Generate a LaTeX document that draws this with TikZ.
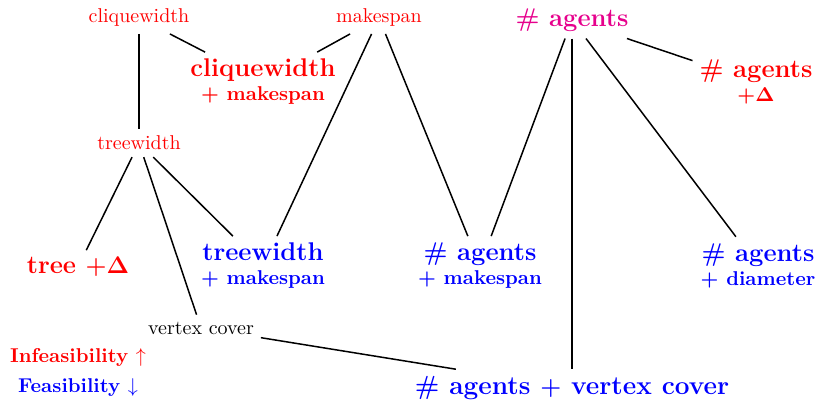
\documentclass[tikz,border=0pt]{standalone}
\usepackage{bm}
\definecolor{agentpink}{RGB}{230,0,140}
\newcommand{\biglabel}{\fontsize{12.8}{15}\selectfont}
\tikzset{
  param/.style={text=red},
  redbox/.style={text=red, font=\bfseries, align=center},
  bluebox/.style={text=blue, font=\bfseries, align=center},
  link/.style={line width=0.75pt},
}
\begin{document}
\begin{tikzpicture}[x=0.5pt,y=-0.5pt]
\useasboundingbox (0,0) rectangle (817,400);

% single parameters
\node[param] (cw) at (139,18) {cliquewidth};
\node[param] (mk) at (379,18) {makespan};
\node[text=agentpink, font=\biglabel\bfseries] (ag) at (572,20) {\# agents};
\node[param] (tw) at (139,143) {treewidth};
\node (vc) at (201,328) {vertex cover};

% combined parameters
\node[redbox] (cwm) at (263,82) {{\biglabel cliquewidth}\\ $\bm{+}$ makespan};
\node[redbox] (agD) at (756,82) {{\biglabel \# agents}\\ $\bm{+\Delta}$};
\node[redbox, font=\biglabel\bfseries] (tree) at (78,267) {tree $\bm{+\Delta}$};
\node[bluebox] (twm) at (263,266) {{\biglabel treewidth}\\ $\bm{+}$ makespan};
\node[bluebox] (agm) at (480,266) {{\biglabel \# agents}\\ $\bm{+}$ makespan};
\node[bluebox] (agd) at (758,266) {{\biglabel \# agents}\\ $\bm{+}$ diameter};
\node[bluebox, font=\fontsize{13.1}{15}\selectfont\bfseries] (agvc) at (572,388) {\# agents $\bm{+}$ vertex cover};

% legend
\node[text=red, font=\bfseries] (inf) at (78,357) {Infeasibility $\uparrow$};
\node[text=blue, font=\bfseries] (fea) at (78,388) {Feasibility $\downarrow$};

% hierarchy
\draw[link] (cw) -- (tw);
\draw[link] (cw) -- (cwm);
\draw[link] (mk) -- (cwm);
\draw[link] (mk) -- (twm);
\draw[link] (mk) -- (agm);
\draw[link] (ag) -- (agm);
\draw[link] (ag) -- (agvc);
\draw[link] (ag) -- (agd);
\draw[link] (ag) -- (agD);
\draw[link] (tw) -- (tree);
\draw[link] (tw) -- (twm);
\draw[link] (tw) -- (vc);
\draw[link] (vc) -- (agvc);
\end{tikzpicture}
\end{document}
